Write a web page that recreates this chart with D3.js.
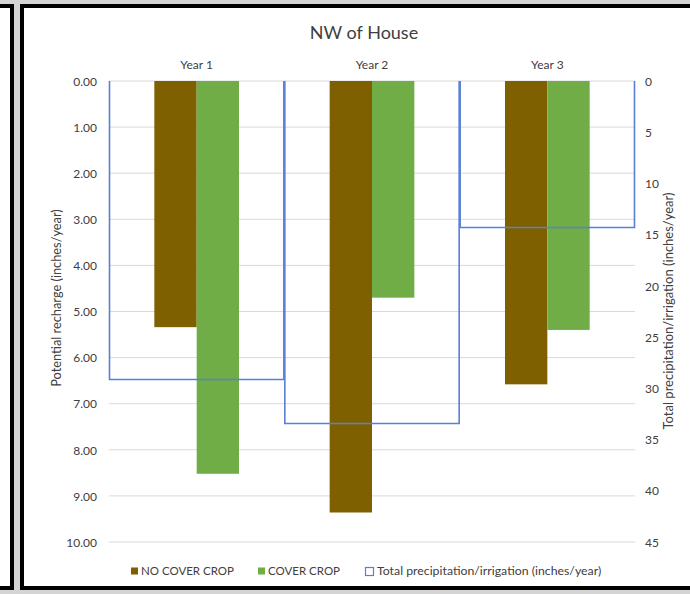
<!DOCTYPE html>
<html><head><meta charset="utf-8">
<script src="https://cdn.jsdelivr.net/npm/d3@7"></script>
<style>
html,body{margin:0;padding:0;background:#d4d4d4;}
svg{display:block;}
text{font-family:Lato,"Open Sans",sans-serif;fill:#404040;}
</style></head>
<body>
<svg id="c" width="690" height="594"></svg>
<script>
const categories = ["Year 1", "Year 2", "Year 3"];
const noCoverCrop = [5.34, 9.36, 6.58];
const coverCrop = [8.52, 4.70, 5.40];
const totalPrecip = [29.1, 33.4, 14.25];
const leftTicks = [0,1,2,3,4,5,6,7,8,9,10];
const rightTicks = [0,5,10,15,20,25,30,35,40,45];
const seriesNames = ["NO COVER CROP", "COVER CROP", "Total precipitation/irrigation (inches/year)"];

const svg = d3.select("#c");
// panels
svg.append("rect").attr("x",-10).attr("y",6).attr("width",22).attr("height",582)
  .attr("fill","#fff").attr("stroke","#000").attr("stroke-width",4);
svg.append("rect").attr("x",22).attr("y",6).attr("width",700).attr("height",582)
  .attr("fill","#fff").attr("stroke","#000").attr("stroke-width",4);

const L = 109, R = 635, T = 81, B = 542;
const x = d3.scaleBand().domain(categories).range([L, R]).paddingInner(0).paddingOuter(0);
const yL = d3.scaleLinear().domain([0, 10]).range([T, B]);
const yR = d3.scaleLinear().domain([0, 45]).range([T, B]);
const barW = x.bandwidth() * 0.2415;
const groupOff = (x.bandwidth() - 2 * barW) / 2;

// gridlines
svg.append("g").selectAll("line").data(leftTicks).join("line")
  .attr("x1", L).attr("x2", R).attr("y1", d => yL(d)).attr("y2", d => yL(d))
  .attr("stroke", "#d9d9d9").attr("stroke-width", 1);

// left axis
const axL = d3.axisLeft(yL).tickValues(leftTicks).tickFormat(d3.format(".2f")).tickSize(0).tickPadding(12);
const gL = svg.append("g").attr("transform", `translate(${L},0)`).call(axL);
gL.select(".domain").remove();
gL.selectAll("text").style("font-size","12px").attr("fill","#595959").attr("dy","0.35em");

// right axis
const axR = d3.axisRight(yR).tickValues(rightTicks).tickSize(0).tickPadding(10);
const gR = svg.append("g").attr("transform", `translate(${R},0)`).call(axR);
gR.select(".domain").remove();
gR.selectAll("text").style("font-size","12px").attr("fill","#595959").attr("dy","0.35em");

// top category axis
const axT = d3.axisTop(x).tickSize(0).tickPadding(12);
const gT = svg.append("g").attr("transform", `translate(0,${T})`).call(axT);
gT.select(".domain").remove();
gT.selectAll("text").style("font-size","12px").attr("fill","#404040");

// bars
const colors = ["#7f6000", "#70ad47"];
[noCoverCrop, coverCrop].forEach((vals, si) => {
  svg.append("g").selectAll("rect").data(vals).join("rect")
    .attr("x", (d, i) => x(categories[i]) + groupOff + si * barW)
    .attr("y", yL(0))
    .attr("width", barW)
    .attr("height", d => yL(d) - yL(0))
    .attr("fill", colors[si]);
});

// precipitation outlines (secondary axis, no fill)
svg.append("g").selectAll("path").data(totalPrecip).join("path")
  .attr("d", (d, i) => {
    const x0 = x(categories[i]) + 0.5, x1 = x(categories[i]) + x.bandwidth() - 0.5;
    const y1 = Math.round(yR(d)) + 0.5;
    return `M${x0},${yR(0)}V${y1}H${x1}V${yR(0)}`;
  })
  .attr("fill", "none").attr("stroke", "#5a7fd6").attr("stroke-width", 1.6);

// title
svg.append("text").attr("x", 364).attr("y", 39).attr("text-anchor","middle")
  .style("font-size","18px").attr("fill","#262626").text("NW of House");

// axis titles
svg.append("text").attr("transform","translate(61,298) rotate(-90)").attr("text-anchor","middle")
  .style("font-size","12.8px").attr("fill","#262626").text("Potential recharge (inches/year)");
svg.append("text").attr("transform","translate(673,311) rotate(-90)").attr("text-anchor","middle")
  .style("font-size","13px").attr("fill","#262626").text("Total precipitation/irrigation (inches/year)");

// legend
const lg = svg.append("g").attr("transform","translate(0,571)");
const legX = [131, 258, 365];
seriesNames.forEach((n, i) => {
  if (i < 2) {
    lg.append("rect").attr("x", legX[i]).attr("y", -3.5).attr("width", 7).attr("height", 7).attr("fill", colors[i]);
  } else {
    lg.append("rect").attr("x", legX[i] + 0.5).attr("y", -3.5).attr("width", 8).attr("height", 8)
      .attr("fill","none").attr("stroke","#5a7fd6").attr("stroke-width",1.2);
  }
  lg.append("text").attr("x", legX[i] + (i < 2 ? 10 : 12)).attr("y", 0).attr("dy","0.35em")
    .style("font-size", i < 2 ? "11.5px" : "12.3px").attr("fill","#404040").text(n);
});
</script>
</body></html>
